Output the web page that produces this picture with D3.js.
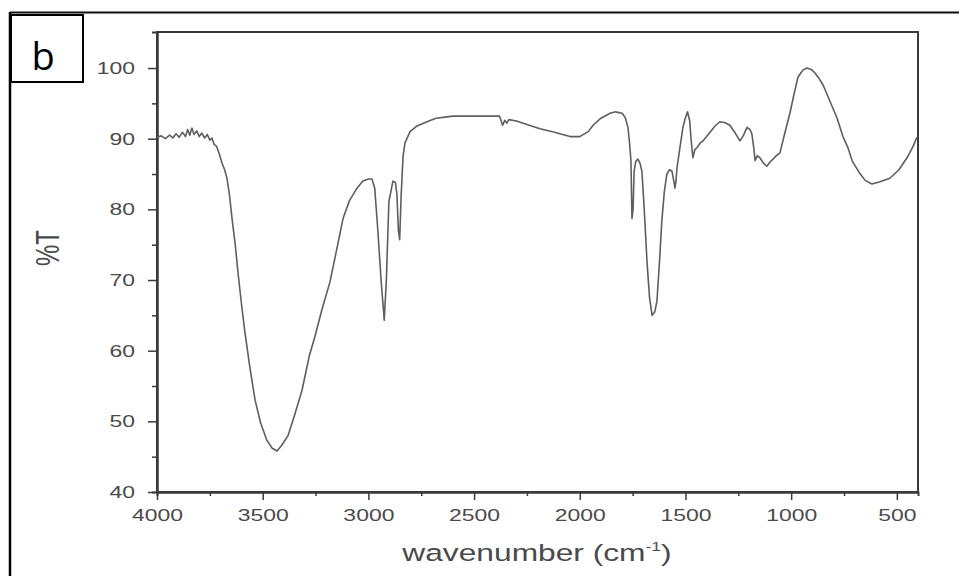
<!DOCTYPE html>
<html>
<head>
<meta charset="utf-8">
<script src="https://cdn.jsdelivr.net/npm/d3@7"></script>
<style>
  html, body { margin: 0; padding: 0; background: #fff; }
  svg { display: block; }
</style>
</head>
<body>
<svg id="chart" width="959" height="576"></svg>
<script>
// spectrum, wavenumber (cm-1) and %T
var wavenumbers = [
  4000, 3980, 3960, 3940, 3925, 3910, 3895, 3880, 3865, 3855, 3845, 3835, 3825, 3812, 3800,
  3788, 3775, 3762, 3750, 3740, 3730, 3718, 3705, 3693, 3680, 3669, 3657, 3645, 3630, 3617,
  3600, 3584, 3560, 3536, 3510, 3480, 3455, 3432, 3410, 3380, 3350, 3314, 3280, 3253, 3220,
  3182, 3150, 3120, 3090, 3054, 3026, 3000, 2983, 2970, 2955, 2940, 2925, 2915, 2903, 2884,
  2872, 2865, 2858, 2852, 2845, 2836, 2827, 2803, 2770, 2723, 2680, 2600, 2500, 2392, 2380,
  2365, 2355, 2345, 2335, 2300, 2250, 2188, 2120, 2046, 2000, 1960, 1937, 1900, 1857, 1830,
  1800, 1785, 1772, 1765, 1758, 1753, 1748, 1743, 1735, 1725, 1715, 1706, 1695, 1682, 1670,
  1658, 1645, 1635, 1622, 1612, 1600, 1588, 1575, 1564, 1555, 1550, 1545, 1540, 1525, 1512,
  1500, 1490, 1480, 1474, 1465, 1455, 1446, 1430, 1417, 1400, 1384, 1360, 1337, 1315, 1290,
  1265, 1242, 1225, 1209, 1195, 1186, 1176, 1171, 1160, 1148, 1130, 1115, 1100, 1086, 1070,
  1053, 1030, 1006, 985, 968, 945, 925, 905, 887, 870, 849, 815, 784, 755, 731,
  712, 680, 650, 618, 580, 533, 490, 452, 425, 405
];
var transmittance = [
  90.2, 90.4, 90.0, 90.5, 90.1, 90.7, 90.2, 90.9, 90.3, 91.3, 90.5, 91.5, 90.6, 91.1, 90.3,
  90.8, 90.1, 90.6, 89.8, 90.1, 89.2, 88.9, 87.8, 86.6, 85.6, 84.4, 82.0, 78.7, 75.0, 71.1,
  66.5, 62.6, 57.5, 53.0, 49.8, 47.3, 46.2, 45.8, 46.6, 48.0, 50.8, 54.4, 59.2, 62.0, 65.8,
  69.7, 74.3, 78.7, 81.2, 83.0, 84.0, 84.3, 84.3, 83.0, 76.9, 70.0, 64.3, 70.0, 81.1, 84.0,
  83.8, 82.1, 77.0, 75.7, 82.0, 87.5, 89.4, 91.0, 91.8, 92.4, 92.9, 93.2, 93.2, 93.2, 93.2,
  91.9, 92.6, 92.2, 92.7, 92.5, 92.0, 91.4, 90.9, 90.3, 90.3, 91.0, 91.9, 92.9, 93.6, 93.8,
  93.6, 93.0, 91.6, 89.5, 86.9, 78.7, 80.0, 85.4, 86.8, 87.1, 86.5, 85.4, 80.0, 72.6, 67.5,
  65.0, 65.5, 67.0, 73.0, 78.3, 82.5, 85.0, 85.6, 85.4, 84.0, 83.0, 84.0, 85.9, 89.0, 91.6,
  93.0, 93.8, 92.5, 90.1, 87.3, 88.5, 88.7, 89.4, 89.7, 90.3, 90.9, 91.8, 92.4, 92.3, 91.9,
  90.8, 89.7, 90.5, 91.6, 91.3, 90.7, 88.5, 86.9, 87.6, 87.3, 86.5, 86.1, 86.7, 87.1, 87.6,
  88.0, 90.8, 93.6, 96.5, 98.7, 99.7, 100.0, 99.8, 99.3, 98.6, 97.6, 95.2, 93.0, 90.3, 88.7,
  86.9, 85.3, 84.1, 83.6, 83.9, 84.4, 85.6, 87.3, 88.8, 90.2
];
var xMajorTicks = [4000, 3500, 3000, 2500, 2000, 1500, 1000, 500];
var xMinorTicks = [3750, 3250, 2750, 2250, 1750, 1250, 750];
var yMajorTicks = [40, 50, 60, 70, 80, 90, 100];
var yMinorTicks = [45, 55, 65, 75, 85, 95];
var panelLabel = 'b';
var xTitle = ['wavenumber (cm', '-1', ')'];
var yTitle = '%T';

(function () {
  "use strict";

  var opts = {
    left: 157, right: 918, top: 32, bottom: 492,
    axisColor: '#3a3a3a',
    textColor: '#4a4a4a',
    lineColor: '#5e5e5e',
    stretch: 1.35,          // the chart image is widened, so are its glyphs
    fontFamily: 'Liberation Sans, Arial, sans-serif'
  };

  var svg = d3.select('#chart');

  // outer page frame and the panel letter box
  svg.append('line')
    .attr('x1', 10).attr('x2', 959).attr('y1', 12.5).attr('y2', 12.5)
    .attr('stroke', '#111').attr('stroke-width', 2);
  svg.append('line')
    .attr('x1', 10).attr('x2', 10).attr('y1', 12).attr('y2', 576)
    .attr('stroke', '#000').attr('stroke-width', 2.5);
  svg.append('rect')
    .attr('x', 11).attr('y', 15).attr('width', 72).attr('height', 67)
    .attr('fill', '#fff').attr('stroke', '#000').attr('stroke-width', 2);
  svg.append('text')
    .attr('x', 43).attr('y', 70)
    .attr('text-anchor', 'middle')
    .attr('font-family', 'Open Sans, Liberation Sans, sans-serif')
    .attr('font-size', 38)
    .attr('fill', '#000')
    .text(panelLabel);

  var x = d3.scaleLinear().domain([4000, 400]).range([opts.left, opts.right]);
  var y = d3.scaleLinear().domain([40, 105.1]).range([opts.bottom, opts.top]);
  var fmt = d3.format('d');

  var data = wavenumbers.map(function (wn, i) { return { wn: wn, t: transmittance[i] }; });

  // minor ticks first, majors go on top
  svg.append('g')
    .attr('transform', 'translate(0,' + opts.bottom + ')')
    .call(d3.axisBottom(x).tickValues(xMinorTicks).tickSize(4).tickFormat(''))
    .call(styleAxis);
  svg.append('g')
    .attr('transform', 'translate(' + opts.left + ',0)')
    .call(d3.axisLeft(y).tickValues(yMinorTicks).tickSize(5).tickFormat(''))
    .call(styleAxis);

  var xAxis = svg.append('g')
    .attr('transform', 'translate(0,' + opts.bottom + ')')
    .call(d3.axisBottom(x).tickValues(xMajorTicks).tickFormat(fmt).tickSize(8).tickSizeOuter(0))
    .call(styleAxis);
  xAxis.selectAll('.tick text')
    .attr('y', 17)
    .attr('transform', 'scale(' + opts.stretch + ',1)');

  var yAxis = svg.append('g')
    .attr('transform', 'translate(' + opts.left + ',0)')
    .call(d3.axisLeft(y).tickValues(yMajorTicks).tickFormat(fmt).tickSize(9).tickSizeOuter(0))
    .call(styleAxis);
  yAxis.selectAll('.tick text')
    .attr('x', -22 / opts.stretch)
    .attr('transform', 'scale(' + opts.stretch + ',1)');

  // box round the plot
  svg.append('rect')
    .attr('x', opts.left).attr('y', opts.top)
    .attr('width', opts.right - opts.left).attr('height', opts.bottom - opts.top)
    .attr('fill', 'none')
    .attr('stroke', opts.axisColor)
    .attr('stroke-width', 2);

  var line = d3.line()
    .x(function (d) { return x(d.wn); })
    .y(function (d) { return y(d.t); })
    .curve(d3.curveLinear);

  svg.append('path')
    .datum(data)
    .attr('d', line)
    .attr('fill', 'none')
    .attr('stroke', opts.lineColor)
    .attr('stroke-width', 1.6)
    .attr('stroke-linejoin', 'round');

  // axis titles
  var xt = svg.append('text')
    .attr('transform', 'translate(537,561) scale(' + opts.stretch + ',1)')
    .attr('text-anchor', 'middle')
    .attr('font-family', opts.fontFamily)
    .attr('font-size', 23.5)
    .attr('fill', opts.textColor);
  xt.append('tspan').text(xTitle[0]);
  xt.append('tspan').attr('font-size', 13).attr('dy', -10).text(xTitle[1]);
  xt.append('tspan').attr('dy', 10).text(xTitle[2]);

  svg.append('text')
    .attr('transform', 'translate(59,248) scale(' + opts.stretch + ',1) rotate(-90)')
    .attr('text-anchor', 'middle')
    .attr('font-family', opts.fontFamily)
    .attr('font-size', 24)
    .attr('fill', opts.textColor)
    .text(yTitle);

  function styleAxis(g) {
    g.select('.domain').attr('stroke', opts.axisColor).attr('stroke-width', 2);
    g.selectAll('.tick line').attr('stroke', opts.axisColor).attr('stroke-width', 1.5);
    g.selectAll('.tick text')
      .attr('font-family', opts.fontFamily)
      .attr('font-size', 17)
      .attr('fill', opts.textColor);
  }
}());
</script>
</body>
</html>
